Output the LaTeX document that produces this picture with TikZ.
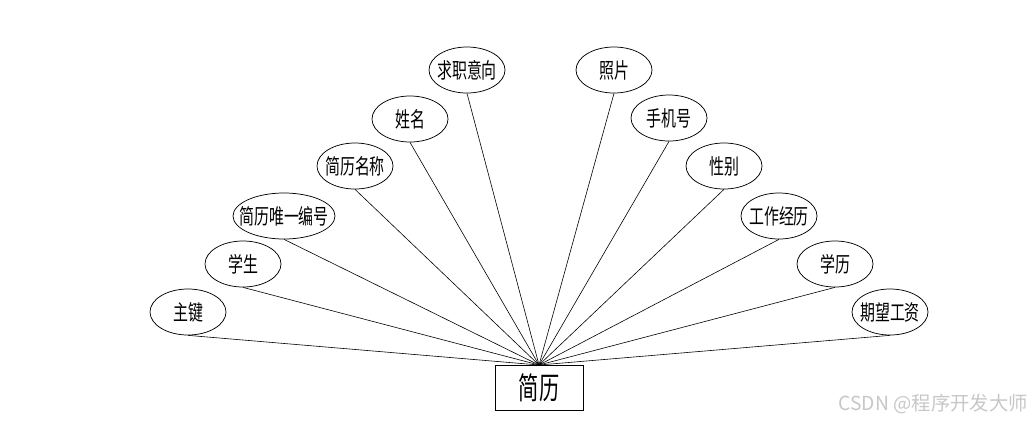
\documentclass[tikz,border=0pt]{standalone}
\usepackage{fontspec}
\setmainfont{Noto Sans CJK SC}
\usetikzlibrary{shapes.geometric}
\newcommand{\attrtext}[1]{\makebox[0pt]{\scalebox{0.7}[1]{#1}}}
\newcommand{\enttext}[1]{\makebox[0pt]{\scalebox{0.66}[1]{#1}}}
\begin{document}
\begin{tikzpicture}[x=0.75pt,y=-0.75pt,
  attr/.style={draw,ellipse,line width=0.55pt,minimum width=76*0.75pt,minimum height=46*0.75pt,inner sep=0pt,font=\fontsize{16pt}{18pt}\selectfont},
  ent/.style={draw,rectangle,line width=0.55pt,minimum width=88*0.75pt,minimum height=45*0.75pt,inner sep=0pt,font=\fontsize{23pt}{25pt}\selectfont},
  link/.style={line width=0.45pt}]
\useasboundingbox (0,0) rectangle (1032,422);
\node[ent] (e) at (539,387.5) {\enttext{简历}};
\coordinate (h) at (539,365);
\node[attr] (a1) at (188,312) {\attrtext{主键}};
\node[attr] (a2) at (243,264) {\attrtext{学生}};
\node[attr,minimum width=102*0.75pt] (a3) at (284,216) {\attrtext{简历唯一编号}};
\node[attr] (a4) at (355,166) {\attrtext{简历名称}};
\node[attr] (a5) at (410,119) {\attrtext{姓名}};
\node[attr] (a6) at (467,70) {\attrtext{求职意向}};
\node[attr] (a7) at (614,70) {\attrtext{照片}};
\node[attr] (a8) at (669,118) {\attrtext{手机号}};
\node[attr] (a9) at (724,166) {\attrtext{性别}};
\node[attr] (a10) at (779,216) {\attrtext{工作经历}};
\node[attr] (a11) at (835,264) {\attrtext{学历}};
\node[attr] (a12) at (890,312) {\attrtext{期望工资}};
\foreach \i in {1,...,12} {\draw[link] (a\i.south) -- (h);}
\node[anchor=east,text=black!22,font=\fontsize{14.5pt}{16pt}\selectfont,inner sep=0pt] (wm) at (1028,404) {CSDN @程序开发大师};
\end{tikzpicture}
\end{document}
